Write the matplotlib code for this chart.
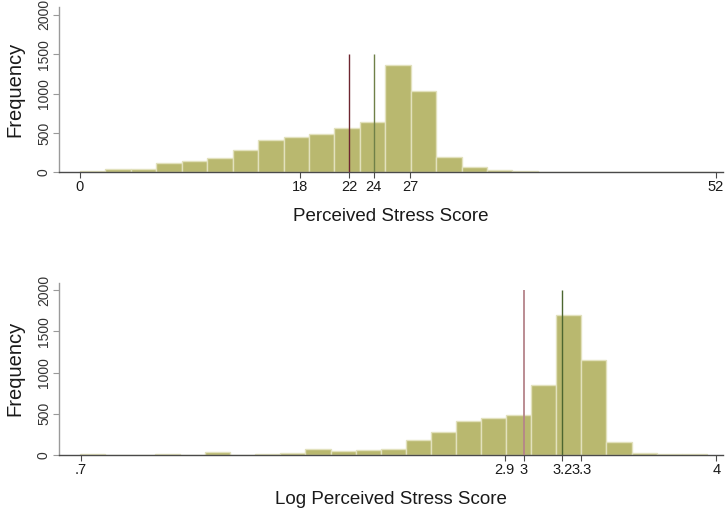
import numpy as np
import matplotlib
matplotlib.use("Agg")
import matplotlib.pyplot as plt

plt.rcParams["font.family"] = ["Liberation Sans", "DejaVu Sans"]

# ── data ────────────────────────────────────────────────────────────
pss_range = (0.0, 52.0)
pss_counts = [13, 43, 42, 123, 140, 183, 281, 413, 447, 489, 557, 638,
              1362, 1038, 191, 68, 30, 17, 10, 10, 4, 4, 4, 0, 3]
pss_ticks = [0, 18, 22, 24, 27, 52]
pss_tick_labels = ["0", "18", "22", "24", "27", "52"]
pss_median, pss_mode = 22, 24

log_range = (0.693, 3.951)
log_counts = [8, 0, 0, 10, 0, 32, 0, 16, 24, 69, 48, 61, 73, 178, 279,
              412, 444, 485, 848, 1697, 1151, 153, 24, 12, 8]
log_ticks = [0.7, 2.9, 3.0, 3.2, 3.3, 4.0]
log_tick_labels = [".7", "2.9", "3", "3.2", "3.3", "4"]
log_median, log_mode = 3.0, 3.2

y_ticks = [0, 500, 1000, 1500, 2000]

# ── style ───────────────────────────────────────────────────────────
CLR_BAR = "#b9b86f"
CLR_BAR_EDGE = "#e2e1bd"
CLR_AXIS_X = "#4a4a4a"
CLR_AXIS_Y = "#9a9a9a"
CLR_TEXT = "#1a1a1a"

fig = plt.figure(figsize=(7.25, 5.13), dpi=100)
fig.patch.set_facecolor("white")

ax_top = fig.add_axes([0.0818, 0.6641, 0.9154, 0.3223])
ax_bot = fig.add_axes([0.0818, 0.1131, 0.9154, 0.3358])


def draw_hist(ax, rng, counts, xlim, ylim_top, ticks, labels, xlabel):
    edges = np.linspace(rng[0], rng[1], len(counts) + 1)
    ax.bar(edges[:-1], counts, width=np.diff(edges), align="edge",
           color=CLR_BAR, edgecolor=CLR_BAR_EDGE, linewidth=1.0, zorder=2)
    ax.set_xlim(*xlim)
    ax.set_ylim(0, ylim_top)
    ax.set_xticks(ticks)
    ax.set_xticklabels(labels)
    ax.set_yticks(y_ticks)
    ax.set_yticklabels([str(t) for t in y_ticks], rotation=90, va="center")
    for side in ("top", "right"):
        ax.spines[side].set_visible(False)
    ax.spines["left"].set_color(CLR_AXIS_Y)
    ax.spines["bottom"].set_color(CLR_AXIS_X)
    ax.spines["left"].set_linewidth(1.0)
    ax.spines["bottom"].set_linewidth(1.0)
    ax.tick_params(axis="x", length=4, width=0.8, color=CLR_AXIS_X,
                   labelsize=10.5, labelcolor=CLR_TEXT, pad=1.5)
    ax.tick_params(axis="y", length=4, width=0.8, color=CLR_AXIS_Y,
                   labelsize=10, labelcolor="#333333", pad=2)
    ax.set_ylabel("Frequency", fontsize=14.5, color=CLR_TEXT)
    ax.set_xlabel(xlabel, fontsize=13.5, color=CLR_TEXT, labelpad=10)
    ax.patch.set_alpha(0)


draw_hist(ax_top, pss_range, pss_counts, (-1.69, 52.57), 2100,
          pss_ticks, pss_tick_labels, "Perceived Stress Score")
ax_top.vlines(pss_median, 0, 1500, color="#6e2630", linewidth=1.0, zorder=3)
ax_top.vlines(pss_mode, 0, 1500, color="#6f8048", linewidth=1.0, zorder=3)

draw_hist(ax_bot, log_range, log_counts, (0.587, 4.035), 2090,
          log_ticks, log_tick_labels, "Log Perceived Stress Score")
ax_bot.vlines(log_median, 0, 2000, color="#b5848a", linewidth=1.3, zorder=3)
ax_bot.vlines(log_mode, 0, 2000, color="#4c6630", linewidth=1.0, zorder=3)

# both y-axis titles sit at the same place as in the reference
for ax in (ax_top, ax_bot):
    ax.yaxis.set_label_coords(-0.052, 0.5)

fig.savefig("out.png", dpi=100)
